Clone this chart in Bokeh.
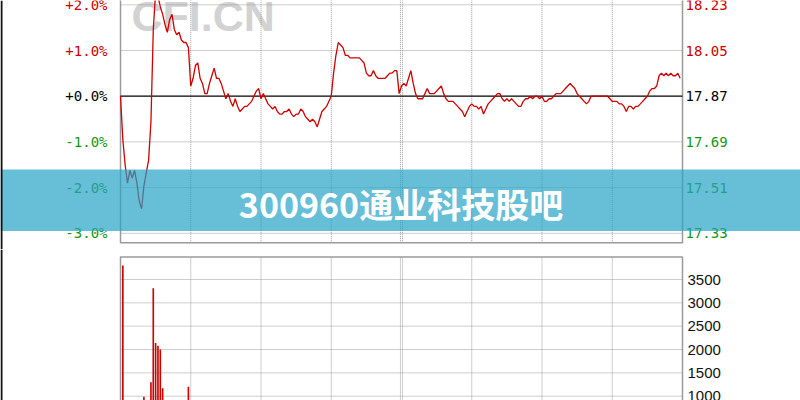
from bokeh.plotting import figure
from bokeh.models import (Range1d, Label, LabelSet, BoxAnnotation, ColumnDataSource)
from bokeh.layouts import column
from bokeh.embed import file_html
from bokeh.resources import INLINE
from bokeh.core.properties import value

# ---------------- data ----------------
prev_close = 17.87
minutes = list(range(240))
prices = [
    17.87, 17.70, 17.60, 17.53, 17.58, 17.55, 17.58, 17.53, 17.46, 17.43,
    17.52, 17.57, 17.62, 17.77, 18.13, 18.28, 18.26, 18.22, 18.19, 18.15,
    18.12, 18.17, 18.19, 18.13, 18.11, 18.12, 18.09, 18.08, 18.08, 18.06,
    17.91, 17.94, 17.99, 18.00, 17.94, 17.92, 17.88, 17.88, 17.92, 17.95,
    17.98, 17.94, 17.94, 17.92, 17.89, 17.86, 17.88, 17.85, 17.83, 17.86,
    17.83, 17.81, 17.82, 17.83, 17.83, 17.84, 17.85, 17.87, 17.89, 17.90,
    17.86, 17.88, 17.86, 17.84, 17.83, 17.82, 17.83, 17.81, 17.80, 17.80,
    17.81, 17.81, 17.82, 17.80, 17.79, 17.80, 17.80, 17.82, 17.81, 17.79,
    17.78, 17.77, 17.78, 17.77, 17.75, 17.78, 17.81, 17.82, 17.83, 17.85,
    17.87, 17.96, 18.03, 18.08, 18.07, 18.06, 18.03, 18.03, 18.02, 18.02,
    18.02, 18.02, 18.02, 18.01, 18.00, 17.96, 17.95, 17.95, 17.97, 17.95,
    17.94, 17.94, 17.94, 17.94, 17.95, 17.96, 17.96, 17.97, 17.97, 17.88,
    17.91, 17.92, 17.91, 17.94, 17.97, 17.92, 17.88, 17.86, 17.86, 17.86,
    17.88, 17.90, 17.88, 17.88, 17.88, 17.89, 17.90, 17.91, 17.88, 17.86,
    17.85, 17.85, 17.85, 17.84, 17.83, 17.82, 17.81, 17.79, 17.81, 17.83,
    17.84, 17.83, 17.83, 17.82, 17.83, 17.80, 17.82, 17.84, 17.85, 17.86,
    17.87, 17.88, 17.88, 17.86, 17.85, 17.86, 17.85, 17.86, 17.85, 17.84,
    17.83, 17.83, 17.85, 17.86, 17.86, 17.87, 17.86, 17.87, 17.87, 17.86,
    17.87, 17.85, 17.85, 17.86, 17.86, 17.87, 17.88, 17.88, 17.88, 17.89,
    17.90, 17.91, 17.92, 17.91, 17.90, 17.88, 17.87, 17.86, 17.85, 17.84,
    17.85, 17.87, 17.87, 17.87, 17.87, 17.87, 17.87, 17.87, 17.87, 17.86,
    17.85, 17.85, 17.85, 17.84, 17.84, 17.83, 17.81, 17.83, 17.83, 17.82,
    17.83, 17.83, 17.84, 17.85, 17.86, 17.87, 17.89, 17.90, 17.90, 17.91,
    17.95, 17.96, 17.95, 17.96, 17.95, 17.96, 17.95, 17.95, 17.96, 17.94,
]
pct_ticks = [2, 1, 0, -1, -2, -3]
pct_labels = ["+2.0%", "+1.0%", "+0.0%", "-1.0%", "-2.0%", "-3.0%"]
price_labels = ["18.23", "18.05", "17.87", "17.69", "17.51", "17.33"]
vol_minutes = [1, 10, 13, 14, 15, 16, 17, 18, 29]
vol_values = [3800, 990, 1300, 3310, 2140, 2080, 2000, 1170, 1200]
vol_ticks = [1000, 1500, 2000, 2500, 3000, 3500]
vol_labels = ["1000", "1500", "2000", "2500", "3000", "3500"]
time_ticks = [30, 60, 90, 150, 180, 210]
noon_tick = 120
session_end = 240
title_text = "300960通业科技股吧"
watermark_text = "CFI.CN"

# ---------------- styles ----------------
RED = "#d00000"
GREEN = "#119911"
GRID = "#9c9c9c"
FRAME = "#9a9a9a"
MONO = value("DejaVu Sans Mono")

mpx = session_end / 562.0            # minutes per pixel
x_lo, x_hi = -120 * mpx, 680 * mpx   # canvas spans the whole width

tick_prices = [prev_close * (1 + t / 100) for t in pct_ticks]
tick_colors = [RED if t > 0 else ("#000000" if t == 0 else GREEN) for t in pct_ticks]

ppx = prev_close * 0.01 / 45.7       # price per pixel
y_hi = prev_close + 95.7 * ppx
y_lo = prev_close - (249 - 95.7) * ppx
frame_lo = prev_close - (242.3 - 95.7) * ppx

vpx = 500 / 23.34
v_hi = 3500 + (279 - 249) * vpx
v_lo = 3500 - (400 - 279) * vpx
vframe_hi = 3500 + (279 - 256.5) * vpx


def make_fig(h, yr):
    f = figure(width=800, height=h, x_range=Range1d(x_lo, x_hi), y_range=yr,
               x_axis_location=None, y_axis_location=None,
               toolbar_location=None, output_backend="svg",
               min_border=0, outline_line_color=None)
    f.grid.visible = False
    return f


def vgrid(f, y0, y1):
    f.segment(x0=time_ticks, y0=[y0] * len(time_ticks), x1=time_ticks,
              y1=[y1] * len(time_ticks), line_color=GRID, line_dash="1 1", line_width=1)
    for off in (-0.45, 0.45):
        f.segment(x0=[noon_tick + off], y0=[y0], x1=[noon_tick + off], y1=[y1],
                  line_color=GRID, line_dash="1 1", line_width=1)


def hgrid(f, ys):
    f.segment(x0=[0] * len(ys), y0=ys, x1=[session_end] * len(ys), y1=ys,
              line_color=GRID, line_dash="1 1", line_width=1)


# ---------------- price panel ----------------
top = make_fig(249, Range1d(y_lo, y_hi))
vgrid(top, frame_lo, y_hi + 1)
hgrid(top, [p for p, t in zip(tick_prices, pct_ticks) if t != 0])
top.quad(left=[0], right=[session_end], bottom=[frame_lo], top=[y_hi + 1],
         fill_color=None, line_color=FRAME, line_width=1.5)

top.add_layout(Label(x=11 * mpx, y=prev_close + (95.7 - 15.5) * ppx,
                     text=watermark_text, text_color="#d2d2d2",
                     text_font="Liberation Sans", text_font_style="bold",
                     text_font_size="43px", text_baseline="alphabetic",
                     level="underlay"))

top.segment(x0=[0], y0=[prev_close], x1=[session_end], y1=[prev_close],
            line_color="black", line_width=1.3)
top.line(minutes, prices, line_color=RED, line_width=1.3)

left_src = ColumnDataSource(dict(x=[-13 * mpx] * len(pct_ticks), y=tick_prices,
                                 text=pct_labels, color=tick_colors))
right_src = ColumnDataSource(dict(x=[session_end + 3 * mpx] * len(pct_ticks), y=tick_prices,
                                  text=price_labels, color=tick_colors))
top.add_layout(LabelSet(x="x", y="y", text="text", text_color="color", source=left_src,
                        text_align="right", text_baseline="middle",
                        text_font=MONO, text_font_size="14px"))
top.add_layout(LabelSet(x="x", y="y", text="text", text_color="color", source=right_src,
                        text_align="left", text_baseline="middle",
                        text_font=MONO, text_font_size="14px"))

# banner across the whole width
top.add_layout(BoxAnnotation(left=x_lo, right=x_hi,
                             top=prev_close + (95.7 - 169) * ppx,
                             bottom=prev_close + (95.7 - 230.5) * ppx,
                             fill_color=(39, 162, 198), fill_alpha=0.7,
                             line_color=None, level="overlay"))
top.add_layout(Label(x=280.5 * mpx, y=prev_close + (95.7 - 202.5) * ppx,
                     text=title_text, text_color="white",
                     text_font="Noto Sans CJK SC", text_font_style="bold",
                     text_font_size="34px", text_align="center",
                     text_baseline="middle", level="overlay"))
top.add_layout(BoxAnnotation(left=x_lo, right=x_lo + 2 * mpx,
                             fill_color="#111111", fill_alpha=1, line_color=None,
                             level="overlay"))

# ---------------- volume panel ----------------
bot = make_fig(151, Range1d(v_lo, v_hi))
vgrid(bot, v_lo - 1, vframe_hi)
hgrid(bot, vol_ticks)
bot.quad(left=[0], right=[session_end], bottom=[v_lo - 50], top=[vframe_hi],
         fill_color=None, line_color=FRAME, line_width=1.5)
bot.vbar(x=vol_minutes, top=vol_values, bottom=0, width=0.7,
         fill_color="#cc0000", line_color=None)
vol_src = ColumnDataSource(dict(x=[session_end + 5 * mpx] * len(vol_ticks), y=vol_ticks,
                                text=vol_labels))
bot.add_layout(LabelSet(x="x", y="y", text="text", source=vol_src,
                        text_align="left", text_baseline="middle",
                        text_font=value("Liberation Sans"), text_font_size="15px",
                        text_color="#111111"))
bot.add_layout(BoxAnnotation(left=x_lo, right=x_lo + 2 * mpx,
                             fill_color="#111111", fill_alpha=1, line_color=None,
                             level="overlay"))

layout = column(top, bot)
open("out.html", "w").write(file_html(layout, INLINE))
